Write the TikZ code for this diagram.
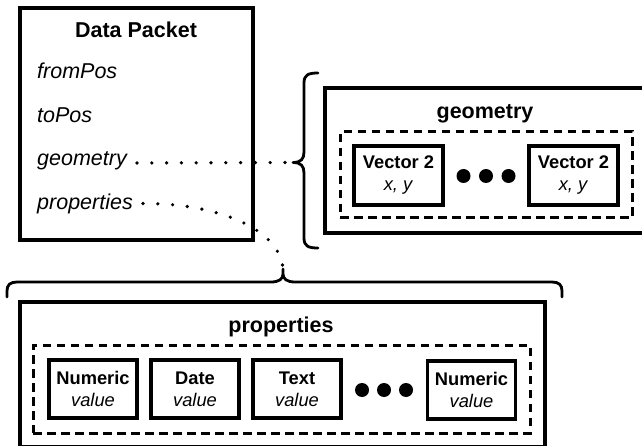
\documentclass[tikz,border=0pt]{standalone}
\usepackage{fontspec}
\setmainfont{Liberation Sans}
\begin{document}
\begin{tikzpicture}[x=1pt,y=-1pt,
  frame/.style={draw, line width=3.3pt, inner sep=0pt, outer sep=0pt},
  dashframe/.style={draw, line width=3pt, dash pattern=on 8.5pt off 5.5pt, inner sep=0pt, outer sep=0pt},
  itembox/.style={frame, minimum width=88pt, minimum height=58pt, align=center,
    font=\fontsize{18.3}{22}\selectfont},
  titletext/.style={inner sep=0pt, anchor=base, font=\bfseries\fontsize{21.5}{26}\selectfont},
  fieldtext/.style={inner sep=0pt, anchor=base west, font=\itshape\fontsize{21.5}{26}\selectfont},
  bigdot/.style={circle, fill, inner sep=0pt, minimum size=14pt},
  dotline/.style={line width=3.6pt, line cap=round, dash pattern=on 0pt off 14.8pt},
  bracepath/.style={line width=2.8pt, line cap=round, line join=round}]

\path[use as bounding box, clip] (0,0) rectangle (642,446);

% ---- data packet ----
\node[frame, minimum width=233pt, minimum height=232pt] (packet) at (136.5,124) {};
\node[titletext] (packettitle) at (136,38) {Data Packet};
\node[fieldtext] (lfrom) at (37,79) {fromPos};
\node[fieldtext] (lto) at (37,122.5) {toPos};
\node[fieldtext] (lgeo) at (37,166) {geometry};
\node[fieldtext] (lprop) at (37,209.5) {properties};

% ---- geometry ----
\coordinate (gtip) at (293,162.5);
\draw[bracepath] (318,73) .. controls (308,73) and (304,75) .. (304,83)
  -- (304,152) .. controls (304,159) and (301,162.5) .. (gtip)
  .. controls (301,162.5) and (304,166) .. (304,173)
  -- (304,238) .. controls (304,246) and (308,248) .. (318,248);

\node[frame, minimum width=320pt, minimum height=145pt] (geo) at (485,160.5) {};
\node[titletext] (geotitle) at (485,119) {geometry};
\node[dashframe, minimum width=292pt, minimum height=86pt] (geoinner) at (486,175) {};
\node[itembox, minimum width=89pt, minimum height=59pt] (vecA) at (398.5,175.5) {\textbf{Vector 2}\\\textit{x, y}};
\node[itembox, minimum width=89pt, minimum height=59pt] (vecB) at (573.5,175.5) {\textbf{Vector 2}\\\textit{x, y}};
\node[bigdot] (gdot1) at (463.5,176) {};
\node[bigdot] (gdot2) at (486,176) {};
\node[bigdot] (gdot3) at (508.5,176) {};

% ---- properties ----
\coordinate (ptip) at (283,269);
\draw[bracepath] (7,297) -- (7,291) .. controls (7,285) and (10,282) .. (17,282)
  -- (271,282) .. controls (279,282) and (283,279) .. (283,274) -- (ptip)
  -- (283,274) .. controls (283,279) and (287,282) .. (295,282)
  -- (552,282) .. controls (559,282) and (562,285) .. (562,291) -- (562,297);

\node[frame, minimum width=525pt, minimum height=145pt] (props) at (282.5,374.5) {};
\node[titletext] (propstitle) at (281,332) {properties};
\node[dashframe, minimum width=497pt, minimum height=88pt] (propsinner) at (281.5,389) {};
\node[itembox] (pnum) at (93,389) {\textbf{Numeric}\\\textit{value}};
\node[itembox] (pdate) at (195,389) {\textbf{Date}\\\textit{value}};
\node[itembox] (ptext) at (297,389) {\textbf{Text}\\\textit{value}};
\node[bigdot] (pdot1) at (362,390) {};
\node[bigdot] (pdot2) at (384,390) {};
\node[bigdot] (pdot3) at (406,390) {};
\node[itembox] (pnumlast) at (471.5,390) {\textbf{Numeric}\\\textit{value}};

% ---- dotted links from fields to braces ----
\draw[dotline] ([xshift=10pt,yshift=3pt]lgeo.base east) -- (gtip);
\draw[dotline] ([xshift=10pt,yshift=6pt]lprop.base east)
  .. controls (215,203) and (280,228) .. (ptip);
\end{tikzpicture}
\end{document}
